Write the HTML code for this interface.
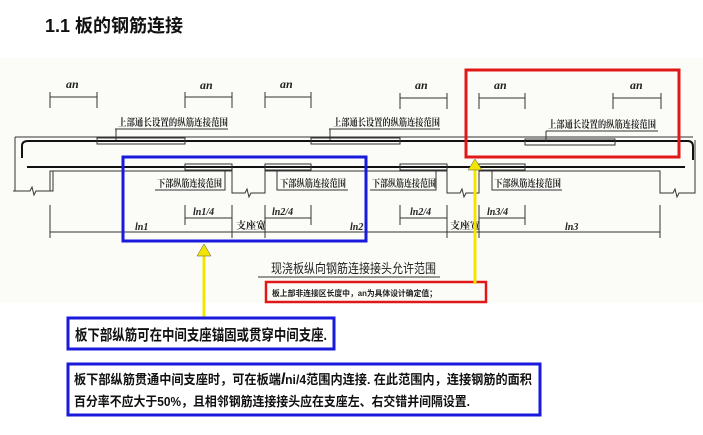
<!DOCTYPE html>
<html><head><meta charset="utf-8"><style>
body{margin:0;width:703px;height:435px;background:#fff;overflow:hidden;font-family:"Liberation Sans","Noto Sans CJK SC",sans-serif}
svg{position:absolute;left:0;top:0}
</style></head><body>
<svg width="703" height="435" viewBox="0 0 703 435" xmlns="http://www.w3.org/2000/svg" font-family="Liberation Sans, Noto Sans CJK SC, sans-serif">
<rect x="0" y="58" width="703" height="245" fill="#fbfbf7"/>
<text x="45" y="32" font-size="18" font-weight="bold" fill="#111">1.1 板的钢筋连接</text>
<g stroke="#333" fill="none" stroke-width="1">
<path d="M50 97H97M50 92V108M97 92V108"/>
<path d="M185 97H232M185 92V108M232 92V108"/>
<path d="M265 97H311M265 92V108M311 92V108"/>
<path d="M400 98H447M400 93V109M447 93V109"/>
<path d="M479 98H525M479 93V109M525 93V109"/>
<path d="M613 98H661M613 93V109M661 93V109"/>
<path d="M15 137H693M15 137V191"/>
<path d="M22 158V146Q22 141 28 141H688Q693 141 693 147V160" stroke="#111" stroke-width="2"/>
<rect x="97" y="138" width="88" height="6"/>
<rect x="311" y="138" width="89" height="6"/>
<rect x="525" y="139" width="90" height="6"/>
<path d="M27 167H685" stroke="#111" stroke-width="2"/>
<rect x="185" y="164" width="47" height="6"/>
<rect x="265" y="164" width="46" height="6"/>
<rect x="400" y="164" width="47" height="6"/>
<rect x="479" y="164" width="46" height="6"/>
<path d="M50 191V171H232V193H245l2 -4l2 8l2 -4H265V171H447V193H460l2 -4l2 8l2 -4H479V171H660V193H673l2 -4l2 8l2 -4H695V140"/>
<path d="M13 191H30l2 -4l2 8l2 -4H53V171"/>
<path d="M115 129H228M116 129V140"/>
<path d="M329 129H440M330 129V140"/>
<path d="M546 131H658M546 131V142"/>
<path d="M155 190H225V170"/>
<path d="M348 190H277V170"/>
<path d="M370 190H436V170"/>
<path d="M562 190H492V170"/>
<path d="M185 218H232M185 205V225M232 205V238"/>
<path d="M265 218H311M265 205V238M311 205V225"/>
<path d="M400 218H447M400 205V225M447 205V238"/>
<path d="M479 218H525M479 205V238M525 205V225"/>
<path d="M50 232H660M50 205V238M660 205V238"/>
<path d="M258 277H440"/>
</g>
<g font-size="10" fill="#222" font-weight="bold" font-family="Liberation Serif, Noto Serif CJK SC, serif">
<text x="66" y="88" font-style="italic" font-size="12">an</text>
<text x="200" y="89" font-style="italic" font-size="12">an</text>
<text x="280" y="88" font-style="italic" font-size="12">an</text>
<text x="415" y="89" font-style="italic" font-size="12">an</text>
<text x="494" y="89" font-style="italic" font-size="12">an</text>
<text x="630" y="89" font-style="italic" font-size="12">an</text>
<text x="118" y="126" textLength="110" lengthAdjust="spacingAndGlyphs">上部通长设置的纵筋连接范围</text>
<text x="333" y="126" textLength="107" lengthAdjust="spacingAndGlyphs">上部通长设置的纵筋连接范围</text>
<text x="548" y="128" textLength="108" lengthAdjust="spacingAndGlyphs">上部通长设置的纵筋连接范围</text>
<text x="157" y="187" textLength="65" lengthAdjust="spacingAndGlyphs">下部纵筋连接范围</text>
<text x="280" y="187" textLength="66" lengthAdjust="spacingAndGlyphs">下部纵筋连接范围</text>
<text x="372" y="187" textLength="64" lengthAdjust="spacingAndGlyphs">下部纵筋连接范围</text>
<text x="494" y="187" textLength="67" lengthAdjust="spacingAndGlyphs">下部纵筋连接范围</text>
<text x="193" y="215" font-style="italic">ln1/4</text>
<text x="272" y="215" font-style="italic">ln2/4</text>
<text x="410" y="215" font-style="italic">ln2/4</text>
<text x="487" y="215" font-style="italic">ln3/4</text>
<text x="236" y="229">支座宽</text>
<text x="450" y="229">支座宽</text>
<text x="135" y="230" font-style="italic">ln1</text>
<text x="350" y="230" font-style="italic">ln2</text>
<text x="565" y="230" font-style="italic">ln3</text>
</g>
<text x="271" y="273" font-size="13" fill="#222" textLength="165" lengthAdjust="spacingAndGlyphs">现浇板纵向钢筋连接接头允许范围</text>
<text x="272" y="296" font-size="8" fill="#222" font-weight="bold" textLength="165" lengthAdjust="spacingAndGlyphs">板上部非连接区长度中，an为具体设计确定值；</text>
<rect x="123" y="157" width="243" height="84" fill="none" stroke="#1a1adc" stroke-width="3"/>
<rect x="466" y="70" width="213" height="87" fill="none" stroke="#e01818" stroke-width="3"/>
<rect x="266" y="282" width="220" height="20" fill="none" stroke="#e01818" stroke-width="2.5"/>
<path d="M204 252V320" stroke="#f2e600" stroke-width="3"/>
<path d="M197 256L204 244L211 256Z" fill="#f2e600" stroke="#555" stroke-width="0.5"/>
<path d="M475 168V284" stroke="#f2e600" stroke-width="3"/>
<path d="M468 170L475 159L482 170Z" fill="#f2e600" stroke="#555" stroke-width="0.5"/>
<rect x="68" y="318" width="266" height="31" fill="#fff" stroke="#1a1adc" stroke-width="3"/>
<text x="75" y="340" font-size="15" font-weight="bold" fill="#111" textLength="252" lengthAdjust="spacingAndGlyphs">板下部纵筋可在中间支座锚固或贯穿中间支座.</text>
<rect x="68" y="364" width="472" height="51" fill="#fff" stroke="#1a1adc" stroke-width="3"/>
<text x="74" y="384" font-size="13" font-weight="bold" fill="#111" textLength="458" lengthAdjust="spacingAndGlyphs">板下部纵筋贯通中间支座时，可在板端<tspan font-style="italic" font-size="16">l</tspan>ni/4范围内连接. 在此范围内，连接钢筋的面积</text>
<text x="74" y="406" font-size="13" font-weight="bold" fill="#111" textLength="396" lengthAdjust="spacingAndGlyphs">百分率不应大于50%，且相邻钢筋连接接头应在支座左、右交错并间隔设置.</text>
</svg>
</body></html>
